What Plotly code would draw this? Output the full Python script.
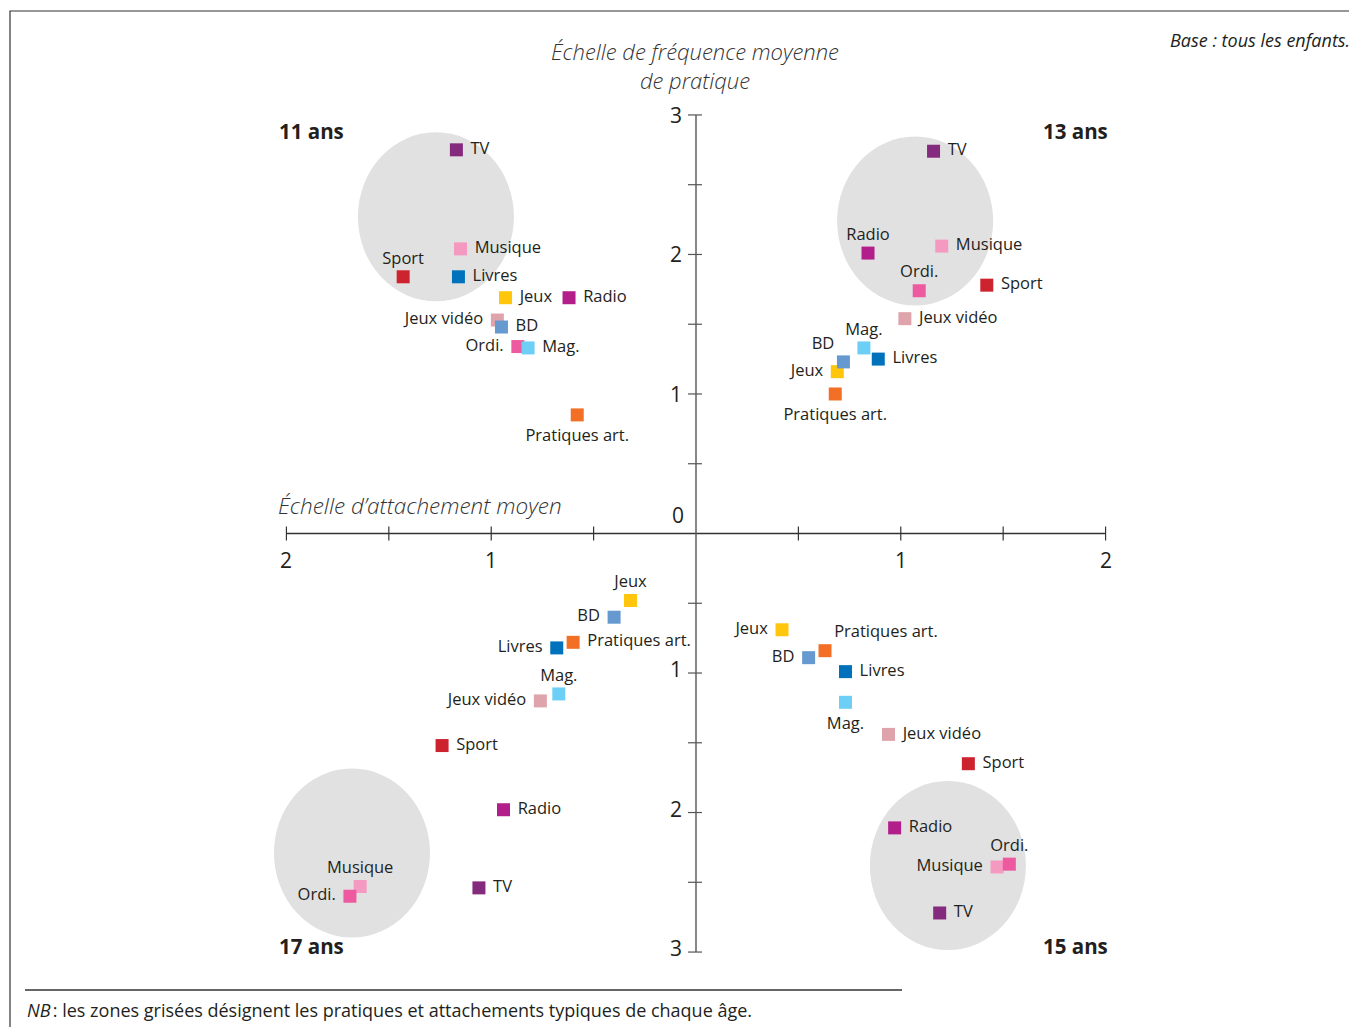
import plotly.graph_objects as go

# ---------------- data ----------------
items = ["TV", "Musique", "Sport", "Livres", "Jeux", "Radio",
         "Jeux vidéo", "BD", "Ordi.", "Mag.", "Pratiques art."]
colors = ["#842B7E", "#F49AC1", "#CD232E", "#0072BC", "#FFC60B", "#B21F8B",
          "#DFA4AB", "#6699D0", "#EE5AA0", "#6DCFF6", "#F26F25"]

ages = ["11 ans", "13 ans", "15 ans", "17 ans"]

# attachement moyen (horizontal) / fréquence moyenne de pratique (vertical)
attach_11 = [1.17, 1.15, 1.43, 1.16, 0.93, 0.62, 0.97, 0.95, 0.87, 0.82, 0.58]
freq_11   = [2.75, 2.04, 1.84, 1.84, 1.69, 1.69, 1.53, 1.48, 1.34, 1.33, 0.85]

attach_13 = [1.16, 1.20, 1.42, 0.89, 0.69, 0.84, 1.02, 0.72, 1.09, 0.82, 0.68]
freq_13   = [2.74, 2.06, 1.78, 1.25, 1.16, 2.01, 1.54, 1.23, 1.74, 1.33, 1.00]

attach_15 = [1.19, 1.47, 1.33, 0.73, 0.42, 0.97, 0.94, 0.55, 1.53, 0.73, 0.63]
freq_15   = [2.72, 2.39, 1.65, 0.99, 0.69, 2.11, 1.44, 0.89, 2.37, 1.21, 0.84]

attach_17 = [1.06, 1.64, 1.24, 0.68, 0.32, 0.94, 0.76, 0.40, 1.69, 0.67, 0.60]
freq_17   = [2.54, 2.53, 1.52, 0.82, 0.48, 1.98, 1.20, 0.60, 2.60, 1.15, 0.78]

# typical zones (grey discs): centre per age
zone_attach = [1.27, 1.07, 1.23, 1.68]
zone_freq   = [2.27, 2.24, 2.38, 2.29]

x_ticks = [0.5, 1, 1.5, 2]
x_tick_labels = ["", "1", "", "2"]
y_ticks = [0.5, 1, 1.5, 2, 2.5, 3]
y_tick_labels = ["", "1", "", "2", "", "3"]

# ---------------- styles ----------------
FONT = "Open Sans, sans-serif"
TXT = "#231F20"
quad_sign = {"11 ans": (-1, 1), "13 ans": (1, 1), "15 ans": (1, -1), "17 ans": (-1, -1)}
P = {"mr": "middle right", "ml": "middle left", "tc": "top center",
     "bc": "bottom center", "tl": "top left", "tr": "top right"}
label_pos = {
    "11 ans": ["mr", "mr", "tc", "mr", "mr", "mr", "ml", "mr", "ml", "mr", "bc"],
    "13 ans": ["mr", "mr", "mr", "mr", "ml", "tc", "mr", "tl", "tc", "tc", "bc"],
    "15 ans": ["mr", "ml", "mr", "mr", "ml", "mr", "mr", "ml", "tc", "bc", "tr"],
    "17 ans": ["mr", "tc", "mr", "ml", "tc", "mr", "ml", "ml", "ml", "tc", "mr"],
}
values = {"11 ans": (attach_11, freq_11), "13 ans": (attach_13, freq_13),
          "15 ans": (attach_15, freq_15), "17 ans": (attach_17, freq_17)}

W, H = 1357, 1027
OFF = 8  # page body margin
XR, YR = 2.3, 3.1
ML, PW = 217, 942
MT, PH = 93, 865
MR, MB = W - ML - PW, H - MT - PH


def pxp(x, y):
    """window pixel position -> paper coords (for page decorations)"""
    return (x - OFF - ML) / PW, (H - MB - (y - OFF)) / PH


fig = go.Figure()
shapes = []

# grey zones
RX, RY = 0.381, 0.606
for i, age in enumerate(ages):
    sx, sy = quad_sign[age]
    cx, cy = sx * zone_attach[i], sy * zone_freq[i]
    shapes.append(dict(type="circle", xref="x", yref="y", x0=cx - RX, x1=cx + RX,
                       y0=cy - RY, y1=cy + RY, fillcolor="#E1E1E1",
                       line=dict(width=0), layer="below"))

# points
for age in ages:
    sx, sy = quad_sign[age]
    ax, fy = values[age]
    xs = [sx * v for v in ax]
    ys = [sy * v for v in fy]
    pos = [P[p] for p in label_pos[age]]
    # labels (invisible carrier markers set the text gap)
    fig.add_trace(go.Scatter(
        x=xs, y=ys, mode="markers+text", text=items, textposition=pos,
        textfont=dict(family=FONT, size=16.5, color=TXT),
        marker=dict(symbol="square", opacity=0,
                    size=[21 if p in ("mr", "ml", "bc") else 13 for p in label_pos[age]]),
        cliponaxis=False, hoverinfo="skip", showlegend=False))
    fig.add_trace(go.Scatter(
        x=xs, y=ys, mode="markers",
        marker=dict(symbol="square", size=13, color=colors, line=dict(width=0)),
        cliponaxis=False, hoverinfo="skip", showlegend=False, name=age))

# axes lines
shapes.append(dict(type="line", xref="x", yref="y", x0=-2, x1=2, y0=0, y1=0,
                   line=dict(color="#333333", width=1.4)))
shapes.append(dict(type="line", xref="x", yref="y", x0=0, x1=0, y0=-3, y1=3,
                   line=dict(color="#555555", width=1.4)))
annotations = []
for t, lab in zip(x_ticks, x_tick_labels):
    for s in (-1, 1):
        shapes.append(dict(type="line", xref="x", yref="y", x0=s * t, x1=s * t,
                           ysizemode="pixel", yanchor=0, y0=-7, y1=7,
                           line=dict(color="#333333", width=1.2)))
        if lab:
            annotations.append(dict(x=s * t, y=0, xref="x", yref="y", text=lab,
                                    showarrow=False, yanchor="top", yshift=-10,
                                    font=dict(family=FONT, size=21, color=TXT)))
for t, lab in zip(y_ticks, y_tick_labels):
    for s in (-1, 1):
        shapes.append(dict(type="line", xref="x", yref="y", y0=s * t, y1=s * t,
                           xsizemode="pixel", xanchor=0, x0=-8, x1=6,
                           line=dict(color="#555555", width=1.2)))
        if lab:
            annotations.append(dict(x=0, y=s * t, xref="x", yref="y", text=lab,
                                    showarrow=False, xanchor="right", xshift=-12,
                                    yshift=(0 if s > 0 else 4),
                                    font=dict(family=FONT, size=21, color=TXT)))
annotations.append(dict(x=0, y=0, xref="x", yref="y", text="0", showarrow=False,
                        xanchor="right", yanchor="bottom", xshift=-10, yshift=3,
                        font=dict(family=FONT, size=21, color=TXT)))

# axis titles
x0, y0 = pxp(695, 65)
annotations.append(dict(x=x0, y=y0, xref="paper", yref="paper",
                        text="<i>Échelle de fréquence moyenne<br>de pratique</i>",
                        showarrow=False, xanchor="center", yanchor="middle",
                        font=dict(family=FONT, size=22, color="#333333", weight=300)))
x0, y0 = pxp(276, 505)
annotations.append(dict(x=x0, y=y0, xref="paper", yref="paper",
                        text="<i>Échelle d’attachement moyen</i>",
                        showarrow=False, xanchor="left", yanchor="middle",
                        font=dict(family=FONT, size=22.5, color="#333333", weight=300)))

# age labels
for age, (px_, py_) in zip(ages, [(311, 131), (1075, 131), (1075, 946), (311, 946)]):
    x0, y0 = pxp(px_, py_)
    annotations.append(dict(x=x0, y=y0, xref="paper", yref="paper", text=f"<b>{age}</b>",
                            showarrow=False, xanchor="center", yanchor="middle",
                            font=dict(family=FONT, size=20.5, color=TXT)))

# base note
x0, y0 = pxp(1352, 40)
annotations.append(dict(x=x0, y=y0, xref="paper", yref="paper",
                        text="<i>Base : tous les enfants.</i>", showarrow=False,
                        xanchor="right", yanchor="middle",
                        font=dict(family=FONT, size=18, color=TXT)))
# NB
x0, y0 = pxp(25, 1010)
annotations.append(dict(x=x0, y=y0, xref="paper", yref="paper",
                        text="<i>NB</i>\u202f: les zones grisées désignent les pratiques et attachements typiques de chaque âge.",
                        showarrow=False, xanchor="left", yanchor="middle",
                        font=dict(family=FONT, size=18, color=TXT)))

# frame and separator
fx0, fy0 = pxp(10, 11)
fx1, fy1 = pxp(1380, 1045)
shapes.append(dict(type="rect", xref="paper", yref="paper", x0=fx0, y0=fy1, x1=fx1, y1=fy0,
                   line=dict(color="#333333", width=1.2), fillcolor="rgba(0,0,0,0)"))
lx0, ly = pxp(25, 990)
lx1, _ = pxp(902, 990)
shapes.append(dict(type="line", xref="paper", yref="paper", x0=lx0, x1=lx1, y0=ly, y1=ly,
                   line=dict(color="#333333", width=1.4)))

fig.update_layout(
    width=W, height=H, margin=dict(l=ML, r=MR, t=MT, b=MB),
    paper_bgcolor="white", plot_bgcolor="white",
    xaxis=dict(range=[-XR, XR], visible=False, fixedrange=True),
    yaxis=dict(range=[-YR, YR], visible=False, fixedrange=True),
    shapes=shapes, annotations=annotations, showlegend=False,
)
fig.write_html("out.html")
